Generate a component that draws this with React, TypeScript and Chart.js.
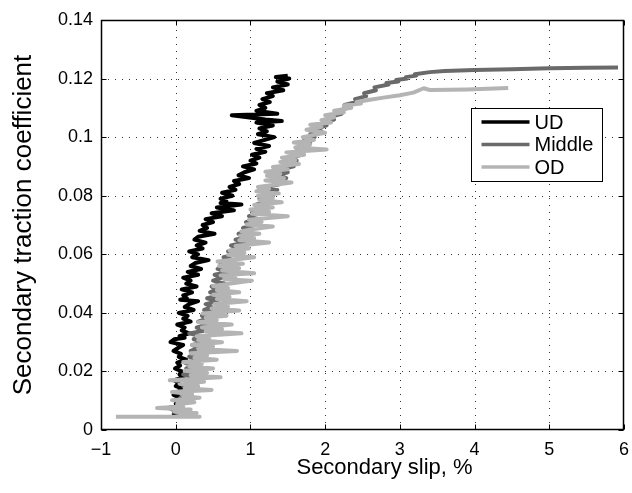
import React, { useEffect, useRef } from "react";
import { Chart, registerables } from "chart.js";

Chart.register(...registerables);

// ---------- data ----------
const seriesNames = ["UD", "Middle", "OD"];
const seriesColors = ["#000000", "#6a6a6a", "#b4b4b4"];

const xTickValues = [-1, 0, 1, 2, 3, 4, 5, 6];
const xTickLabels = ["\u22121", "0", "1", "2", "3", "4", "5", "6"];
const yTickValues = [0, 0.02, 0.04, 0.06, 0.08, 0.1, 0.12, 0.14];
const yTickLabels = ["0", "0.02", "0.04", "0.06", "0.08", "0.1", "0.12", "0.14"];

const xTitle = "Secondary slip, %";
const yTitle = "Secondary traction coefficient";

// [slip %, traction coefficient]
const udPoints: [number, number][] = [
  [-0.05, 0.005], [0.08, 0.0055], [-0.02, 0.006], [0.04, 0.007], [-0.1, 0.0075], [0.02, 0.008],
  [0.0, 0.009], [0.1, 0.0095], [0.03, 0.01], [0.06, 0.011], [-0.03, 0.012], [0.05, 0.0125],
  [0.02, 0.013], [0.12, 0.014], [0.0, 0.015], [0.04, 0.016], [-0.02, 0.017], [0.1, 0.018],
  [0.05, 0.019], [0.08, 0.02], [-0.01, 0.021], [0.06, 0.022], [0.02, 0.023], [0.14, 0.024],
  [0.04, 0.025], [0.07, 0.026], [-0.03, 0.027], [0.03, 0.028], [0.1, 0.029], [-0.07, 0.03],
  [-0.02, 0.031], [0.12, 0.0315], [0.05, 0.032], [0.18, 0.033], [0.08, 0.034], [0.12, 0.035],
  [0.02, 0.036], [0.2, 0.037], [0.1, 0.038], [0.16, 0.039], [0.04, 0.04], [0.24, 0.041],
  [0.12, 0.042], [0.18, 0.043], [0.3, 0.044], [0.06, 0.0445], [0.15, 0.045], [0.1, 0.046],
  [0.22, 0.047], [0.08, 0.048], [0.28, 0.049], [0.14, 0.05], [0.2, 0.051], [0.1, 0.052],
  [0.3, 0.053], [0.16, 0.054], [0.34, 0.055], [0.2, 0.056], [0.26, 0.057], [0.44, 0.058],
  [0.22, 0.059], [0.3, 0.06], [0.18, 0.061], [0.36, 0.062], [0.28, 0.063], [0.4, 0.064],
  [0.25, 0.065], [0.3, 0.066], [0.52, 0.067], [0.32, 0.068], [0.42, 0.069], [0.36, 0.07],
  [0.5, 0.071], [0.4, 0.072], [0.62, 0.073], [0.48, 0.074], [0.78, 0.075], [0.55, 0.076],
  [0.88, 0.077], [0.6, 0.0775], [0.68, 0.078], [0.6, 0.079], [0.76, 0.08], [0.62, 0.081],
  [0.8, 0.082], [0.72, 0.083], [0.85, 0.084], [0.78, 0.085], [0.98, 0.086], [0.84, 0.087],
  [0.92, 0.088], [1.05, 0.089], [0.9, 0.09], [1.08, 0.091], [1.0, 0.092], [1.12, 0.093],
  [1.02, 0.094], [1.2, 0.095], [1.08, 0.096], [1.25, 0.097], [1.05, 0.098], [1.18, 0.099],
  [1.32, 0.1], [1.1, 0.101], [1.22, 0.102], [1.12, 0.103], [1.3, 0.104], [1.08, 0.105],
  [1.42, 0.1055], [1.2, 0.106], [0.75, 0.1075], [1.36, 0.108], [1.08, 0.109], [1.2, 0.11],
  [1.12, 0.111], [1.26, 0.112], [1.16, 0.113], [1.3, 0.114], [1.22, 0.115], [1.44, 0.116],
  [1.3, 0.117], [1.5, 0.118], [1.36, 0.119], [1.52, 0.12], [1.34, 0.1205], [1.5, 0.121],
];

const middlePoints: [number, number][] = [
  [0.0, 0.005], [0.15, 0.006], [-0.05, 0.007], [0.08, 0.008], [0.02, 0.009], [0.18, 0.01],
  [0.06, 0.011], [0.14, 0.012], [0.04, 0.013], [0.22, 0.014], [0.1, 0.015], [0.26, 0.016],
  [0.12, 0.017], [0.2, 0.018], [0.1, 0.019], [0.28, 0.02], [0.14, 0.021], [0.22, 0.022],
  [0.12, 0.023], [0.32, 0.024], [0.18, 0.025], [0.36, 0.026], [0.2, 0.027], [0.3, 0.028],
  [0.22, 0.029], [0.4, 0.03], [0.24, 0.031], [0.34, 0.032], [0.18, 0.033], [0.4, 0.034],
  [0.28, 0.035], [0.46, 0.036], [0.3, 0.037], [0.42, 0.038], [0.35, 0.039], [0.52, 0.04],
  [0.38, 0.041], [0.48, 0.042], [0.4, 0.043], [0.56, 0.044], [0.42, 0.045], [0.6, 0.046],
  [0.46, 0.047], [0.54, 0.048], [0.48, 0.049], [0.66, 0.05], [0.5, 0.051], [0.62, 0.052],
  [0.52, 0.053], [0.7, 0.054], [0.56, 0.055], [0.74, 0.056], [0.6, 0.057], [0.7, 0.058],
  [0.64, 0.059], [0.82, 0.06], [0.7, 0.061], [0.88, 0.062], [0.74, 0.063], [0.92, 0.064],
  [0.8, 0.065], [0.96, 0.066], [0.84, 0.067], [1.02, 0.068], [0.9, 0.069], [1.06, 0.07],
  [0.94, 0.071], [1.1, 0.072], [0.98, 0.073], [1.14, 0.074], [1.02, 0.075], [1.18, 0.076],
  [1.08, 0.077], [1.24, 0.078], [1.12, 0.079], [1.3, 0.08], [1.18, 0.081], [1.36, 0.082],
  [1.22, 0.083], [1.4, 0.084], [1.3, 0.085], [1.48, 0.086], [1.36, 0.087], [1.5, 0.088],
  [1.42, 0.089], [1.58, 0.09], [1.48, 0.091], [1.62, 0.092], [1.54, 0.093], [1.68, 0.094],
  [1.6, 0.095], [1.74, 0.096], [1.66, 0.097], [1.8, 0.098], [1.72, 0.099], [1.86, 0.1],
  [1.8, 0.101], [1.95, 0.102], [1.9, 0.103], [2.02, 0.104], [1.98, 0.105], [2.12, 0.106],
  [2.08, 0.107], [2.22, 0.108], [2.18, 0.109], [2.3, 0.11], [2.26, 0.111], [2.42, 0.112],
  [2.4, 0.113], [2.55, 0.114], [2.52, 0.115], [2.68, 0.116], [2.66, 0.117], [2.85, 0.118],
  [2.82, 0.1185], [2.98, 0.119], [2.95, 0.1195], [3.1, 0.12], [3.08, 0.1205], [3.22, 0.121],
  [3.2, 0.1215], [3.4, 0.1222], [3.6, 0.1226], [4.0, 0.1229], [4.5, 0.1232], [5.0, 0.1235],
  [5.5, 0.1237], [5.92, 0.1238],
];

const odPoints: [number, number][] = [
  [-0.8, 0.0045], [0.32, 0.0045], [0.05, 0.005], [0.28, 0.0058], [-0.02, 0.0062], [0.2, 0.007],
  [-0.25, 0.0075], [0.1, 0.008], [0.02, 0.0088], [0.25, 0.0095], [-0.05, 0.0102], [0.32, 0.011],
  [0.1, 0.0115], [0.22, 0.0122], [-0.05, 0.013], [0.48, 0.0137], [0.12, 0.0143], [0.3, 0.015],
  [0.05, 0.0158], [0.38, 0.0165], [-0.08, 0.017], [0.25, 0.0175], [0.6, 0.018], [0.2, 0.0187],
  [0.42, 0.0195], [0.12, 0.0202], [0.5, 0.021], [0.18, 0.0218], [0.35, 0.0225], [0.1, 0.0232],
  [0.55, 0.024], [0.25, 0.0247], [0.42, 0.0255], [0.2, 0.0262], [0.82, 0.027], [0.3, 0.0277],
  [0.5, 0.0285], [0.22, 0.029], [0.62, 0.03], [0.3, 0.0307], [0.45, 0.0315], [0.28, 0.032],
  [0.88, 0.033], [0.4, 0.0337], [0.62, 0.0345], [0.35, 0.035], [0.75, 0.036], [0.3, 0.0368],
  [0.55, 0.0375], [0.4, 0.0383], [0.68, 0.039], [0.36, 0.0398], [0.85, 0.0408], [0.48, 0.0415],
  [0.7, 0.0422], [0.52, 0.043], [0.95, 0.044], [0.55, 0.0447], [0.72, 0.0455], [0.5, 0.0462],
  [0.85, 0.047], [0.55, 0.0478], [0.7, 0.0485], [0.5, 0.0492], [1.02, 0.051], [0.65, 0.0515],
  [0.8, 0.052], [0.6, 0.0528], [1.05, 0.0535], [0.62, 0.0545], [0.85, 0.0552], [0.58, 0.056],
  [0.9, 0.0568], [0.56, 0.0575], [0.8, 0.0582], [1.05, 0.059], [0.7, 0.0598], [0.92, 0.0605],
  [0.72, 0.0613], [0.98, 0.062], [0.8, 0.0628], [1.25, 0.064], [0.85, 0.0648], [1.05, 0.0655],
  [0.86, 0.0663], [1.12, 0.067], [0.88, 0.0678], [1.0, 0.0685], [1.3, 0.0695], [0.95, 0.0702],
  [1.15, 0.071], [0.98, 0.0718], [1.5, 0.073], [1.02, 0.0738], [1.25, 0.0745], [1.0, 0.0753],
  [1.3, 0.076], [1.05, 0.0768], [1.42, 0.0778], [1.12, 0.0785], [1.3, 0.0792], [1.1, 0.08],
  [1.38, 0.0808], [1.08, 0.0815], [1.25, 0.0823], [1.1, 0.083], [1.55, 0.0845], [1.2, 0.0852],
  [1.45, 0.086], [1.22, 0.0868], [1.4, 0.0875], [1.2, 0.0882], [1.5, 0.089], [1.3, 0.0898],
  [1.65, 0.0908], [1.4, 0.0915], [1.6, 0.0922], [1.42, 0.093], [1.72, 0.094], [1.48, 0.0948],
  [2.02, 0.0958], [1.6, 0.0965], [1.8, 0.0975], [1.58, 0.0982], [1.85, 0.099], [1.7, 0.1],
  [2.0, 0.1015], [1.75, 0.1025], [1.95, 0.1035], [1.8, 0.1042], [2.08, 0.105], [1.95, 0.1058],
  [2.12, 0.1068], [2.0, 0.1075], [2.25, 0.1085], [2.12, 0.109], [2.35, 0.11], [2.25, 0.1108],
  [2.48, 0.1115], [2.42, 0.112], [2.6, 0.1128], [2.78, 0.1135], [3.0, 0.1143], [3.18, 0.1152],
  [3.32, 0.1167], [3.4, 0.1161], [3.9, 0.1163], [4.45, 0.1168],
];

const seriesPoints = [udPoints, middlePoints, odPoints];

const FONT = '"Liberation Sans", Arial, Helvetica, sans-serif';

const framePlugin = {
  id: "matlabFrame",
  beforeDatasetsDraw(chart: any) {
    const { ctx, chartArea: a } = chart;
    const xs = chart.scales.x;
    const ys = chart.scales.y;
    ctx.save();
    ctx.strokeStyle = "#333";
    ctx.lineWidth = 1;
    ctx.setLineDash([1, 6]);
    xTickValues.forEach((v, i) => {
      if (i === 0 || i === xTickValues.length - 1) return;
      const px = Math.round(xs.getPixelForValue(v)) + 0.5;
      ctx.beginPath();
      ctx.moveTo(px, a.bottom);
      ctx.lineTo(px, a.top);
      ctx.stroke();
    });
    yTickValues.forEach((v, i) => {
      if (i === 0 || i === yTickValues.length - 1) return;
      const py = Math.round(ys.getPixelForValue(v)) + 0.5;
      ctx.beginPath();
      ctx.moveTo(a.left, py);
      ctx.lineTo(a.right, py);
      ctx.stroke();
    });
    ctx.restore();
  },
  afterDatasetsDraw(chart: any) {
    const { ctx, chartArea: a } = chart;
    const xs = chart.scales.x;
    const ys = chart.scales.y;
    ctx.save();
    ctx.setLineDash([]);
    ctx.strokeStyle = "#000";
    const L = Math.round(a.left) + 0.5;
    const R = Math.round(a.right) - 0.5;
    const T = Math.round(a.top) + 0.5;
    const B = Math.round(a.bottom) - 0.5;
    ctx.lineWidth = 1.5;
    ctx.strokeRect(L, T, R - L, B - T);
    ctx.lineWidth = 1;
    const tl = 5;
    xTickValues.forEach((v) => {
      const px = Math.round(xs.getPixelForValue(v)) + 0.5;
      ctx.beginPath();
      ctx.moveTo(px, B);
      ctx.lineTo(px, B - tl);
      ctx.moveTo(px, T);
      ctx.lineTo(px, T + tl);
      ctx.stroke();
    });
    yTickValues.forEach((v) => {
      const py = Math.round(ys.getPixelForValue(v)) + 0.5;
      ctx.beginPath();
      ctx.moveTo(L, py);
      ctx.lineTo(L + tl, py);
      ctx.moveTo(R, py);
      ctx.lineTo(R - tl, py);
      ctx.stroke();
    });

    // legend
    const bx = Math.round(a.right) - 152.5;
    const by = Math.round(a.top) + 88.5;
    const bw = 131;
    const bh = 73;
    ctx.fillStyle = "#fff";
    ctx.fillRect(bx, by, bw, bh);
    ctx.strokeStyle = "#000";
    ctx.lineWidth = 1;
    ctx.strokeRect(bx, by, bw, bh);
    ctx.font = `20px ${FONT}`;
    ctx.textBaseline = "middle";
    ctx.textAlign = "left";
    seriesNames.forEach((name, i) => {
      const cy = by + 13.5 + i * 22.5;
      ctx.strokeStyle = seriesColors[i];
      ctx.lineWidth = 3.5;
      ctx.beginPath();
      ctx.moveTo(bx + 10, cy);
      ctx.lineTo(bx + 58, cy);
      ctx.stroke();
      ctx.fillStyle = "#000";
      ctx.fillText(name, bx + 63, cy + 1);
    });

    // x axis title
    ctx.font = `22px ${FONT}`;
    ctx.textAlign = "center";
    ctx.textBaseline = "middle";
    ctx.fillStyle = "#000";
    ctx.fillText(xTitle, (a.left + a.right) / 2 + 22, 468);
    ctx.restore();
  },
};

export default function App() {
  const ref = useRef<HTMLCanvasElement | null>(null);

  useEffect(() => {
    if (!ref.current) return;
    const datasets = seriesNames.map((name, i) => ({
      label: name,
      data: seriesPoints[i].map(([x, y]) => ({ x, y })),
      borderColor: seriesColors[i],
      backgroundColor: seriesColors[i],
      borderWidth: 4,
      pointRadius: 0,
      showLine: true,
      tension: 0,
      borderJoinStyle: "round" as const,
      borderCapStyle: "butt" as const,
      order: seriesNames.length - i,
    }));

    const chart = new Chart(ref.current, {
      type: "scatter",
      data: { datasets },
      plugins: [framePlugin],
      options: {
        animation: false,
        responsive: false,
        devicePixelRatio: 1,
        events: [],
        layout: { padding: { left: 0, right: 8, top: 20, bottom: 0 } },
        plugins: {
          legend: { display: false },
          tooltip: { enabled: false },
          title: { display: false },
        },
        scales: {
          x: {
            type: "linear",
            min: -1,
            max: 6,
            afterBuildTicks: (axis: any) => {
              axis.ticks = xTickValues.map((v) => ({ value: v }));
            },
            afterFit: (axis: any) => {
              axis.height = 63;
              axis.paddingLeft = 0;
              axis.paddingRight = 0;
            },
            grid: { display: false, drawTicks: false },
            border: { display: false },
            ticks: {
              padding: 9,
              color: "#000",
              font: { family: FONT, size: 18 },
              maxRotation: 0,
              autoSkip: false,
              callback: (_v: any, i: number) => xTickLabels[i],
            },
            title: { display: false },
          },
          y: {
            type: "linear",
            min: 0,
            max: 0.14,
            afterBuildTicks: (axis: any) => {
              axis.ticks = yTickValues.map((v) => ({ value: v }));
            },
            afterFit: (axis: any) => {
              axis.width = 101;
              axis.paddingTop = 0;
              axis.paddingBottom = 0;
            },
            grid: { display: false, drawTicks: false },
            border: { display: false },
            ticks: {
              padding: 8,
              color: "#000",
              font: { family: FONT, size: 18 },
              autoSkip: false,
              callback: (_v: any, i: number) => yTickLabels[i],
            },
            title: {
              display: true,
              text: yTitle,
              color: "#000",
              font: { family: FONT, size: 26 },
              padding: { top: 8, bottom: 0 },
            },
          },
        },
      },
    } as any);
    return () => chart.destroy();
  }, []);

  return (
    <div style={{ position: "fixed", left: 0, top: 0, width: 632, height: 493, background: "#fff" }}>
      <canvas ref={ref} width={632} height={493} style={{ width: 632, height: 493, display: "block" }} />
    </div>
  );
}
